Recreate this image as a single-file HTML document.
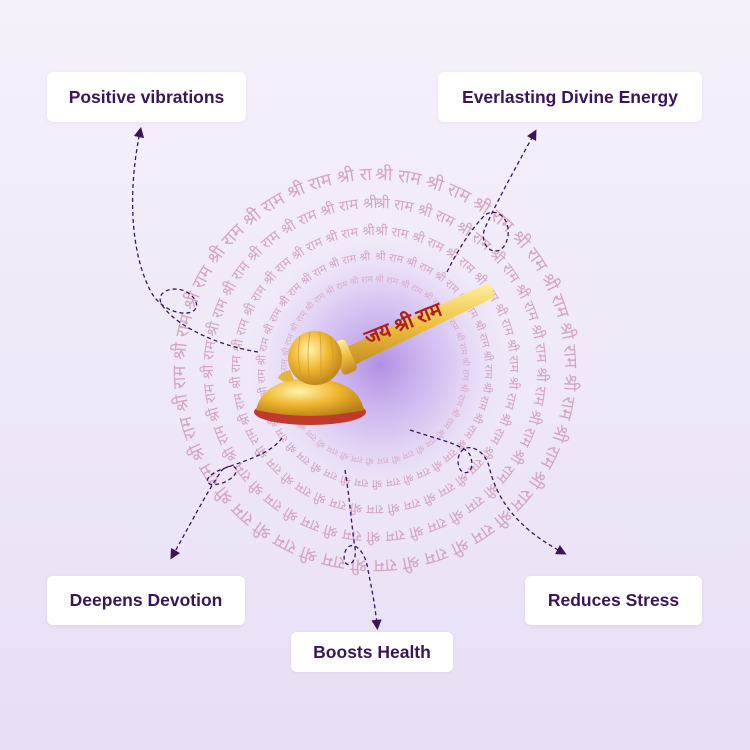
<!DOCTYPE html>
<html><head><meta charset="utf-8"><style>
html,body{margin:0;padding:0}
body{width:750px;height:750px;overflow:hidden;background:linear-gradient(180deg,#f5f1fa 0%,#efe8f8 50%,#e8def5 100%);position:relative;font-family:"Liberation Sans","Noto Sans CJK SC",sans-serif}
.lb{position:absolute;background:#fff;border-radius:6px;color:#3a1658;font-weight:bold;font-size:17.5px;display:flex;align-items:center;justify-content:center;box-shadow:0 1px 3px rgba(90,50,130,.08)}
svg{position:absolute;left:0;top:0}
</style></head><body>
<svg width="750" height="750" viewBox="0 0 750 750">
<defs>
<radialGradient id="glow" cx="0.5" cy="0.5" r="0.5">
<stop offset="0" stop-color="#a57fe0" stop-opacity="0.85"/>
<stop offset="0.5" stop-color="#c4a9ee" stop-opacity="0.5"/>
<stop offset="1" stop-color="#efe8f8" stop-opacity="0"/>
</radialGradient>
<radialGradient id="gold" cx="0.4" cy="0.35" r="0.7">
<stop offset="0" stop-color="#fff3b0"/><stop offset="0.5" stop-color="#f0b830"/><stop offset="1" stop-color="#b8801a"/>
</radialGradient>
<linearGradient id="hg" x1="0" y1="0" x2="0" y2="1">
<stop offset="0" stop-color="#fff0a0"/><stop offset="0.5" stop-color="#eebf40"/><stop offset="1" stop-color="#c08a20"/>
</linearGradient>
<path id="r1" d="M375,180 a190,190 0 1,1 -0.1,0"/>
<path id="r2" d="M375,208 a162,162 0 1,1 -0.1,0"/>
<path id="r3" d="M375,235 a135,135 0 1,1 -0.1,0"/>
<path id="r4" d="M375,260 a110,110 0 1,1 -0.1,0"/>
<path id="r5" d="M375,282 a88,88 0 1,1 -0.1,0"/>
<marker id="ar" markerWidth="8" markerHeight="8" refX="4" refY="4" orient="auto"><path d="M0,0 L8,4 L0,8 z" fill="#3a1658"/></marker>
</defs>
<circle cx="380" cy="365" r="140" fill="url(#glow)"/>
<g fill="#d3a6c2" font-family="'Liberation Sans','Noto Sans CJK SC',sans-serif">
<text font-size="18"><textPath href="#r1">श्री राम श्री राम श्री राम श्री राम श्री राम श्री राम श्री राम श्री राम श्री राम श्री राम श्री राम श्री राम श्री राम श्री राम श्री राम श्री राम श्री राम श्री राम श्री राम श्री राम श्री राम श्री राम श्री राम श्री राम श्री राम श्री राम श्री राम श्री राम श्री राम श्री राम श्री राम श्री राम श्री राम श्री राम श्री राम श्री राम</textPath></text>
<text font-size="15"><textPath href="#r2">श्री राम श्री राम श्री राम श्री राम श्री राम श्री राम श्री राम श्री राम श्री राम श्री राम श्री राम श्री राम श्री राम श्री राम श्री राम श्री राम श्री राम श्री राम श्री राम श्री राम श्री राम श्री राम श्री राम श्री राम श्री राम श्री राम श्री राम श्री राम श्री राम श्री राम श्री राम श्री राम श्री राम श्री राम श्री राम श्री राम</textPath></text>
<text font-size="13"><textPath href="#r3">श्री राम श्री राम श्री राम श्री राम श्री राम श्री राम श्री राम श्री राम श्री राम श्री राम श्री राम श्री राम श्री राम श्री राम श्री राम श्री राम श्री राम श्री राम श्री राम श्री राम श्री राम श्री राम श्री राम श्री राम श्री राम श्री राम श्री राम श्री राम श्री राम श्री राम श्री राम श्री राम श्री राम श्री राम श्री राम श्री राम</textPath></text>
<text font-size="11"><textPath href="#r4">श्री राम श्री राम श्री राम श्री राम श्री राम श्री राम श्री राम श्री राम श्री राम श्री राम श्री राम श्री राम श्री राम श्री राम श्री राम श्री राम श्री राम श्री राम श्री राम श्री राम श्री राम श्री राम श्री राम श्री राम श्री राम श्री राम श्री राम श्री राम श्री राम श्री राम श्री राम श्री राम श्री राम श्री राम श्री राम श्री राम</textPath></text>
<text font-size="9" opacity="0.8"><textPath href="#r5">श्री राम श्री राम श्री राम श्री राम श्री राम श्री राम श्री राम श्री राम श्री राम श्री राम श्री राम श्री राम श्री राम श्री राम श्री राम श्री राम श्री राम श्री राम श्री राम श्री राम श्री राम श्री राम श्री राम श्री राम श्री राम श्री राम श्री राम श्री राम श्री राम श्री राम श्री राम श्री राम</textPath></text>
</g>
<!-- mace -->
<ellipse cx="310" cy="412" rx="56" ry="13" fill="#c0392b"/>
<path d="M256,410 Q262,380 310,378 Q358,380 364,410 Q310,422 256,410z" fill="url(#gold)"/>
<path d="M340,350 L488,283 Q496,290 493,298 L348,368 z" fill="url(#hg)"/>
<text x="0" y="0" font-size="20" font-weight="bold" fill="#b0201a" font-family="'Liberation Serif','Noto Serif CJK SC',serif" transform="translate(368,345) rotate(-22)">जय श्री राम</text>
<rect x="336" y="340" width="16" height="34" rx="4" fill="url(#hg)" transform="rotate(-24 344 357)"/>
<circle cx="315" cy="358" r="27" fill="url(#gold)"/>
<g stroke="#c99a30" stroke-width="1" fill="none" opacity="0.7">
<path d="M300,336 Q296,358 302,380"/><path d="M310,332 Q306,358 310,385"/><path d="M320,332 Q322,358 320,385"/><path d="M330,337 Q336,358 330,380"/>
</g>
<path d="M290,370 Q280,372 278,378 Q285,384 294,380z" fill="#e7b43a"/>
<!-- connectors -->
<g fill="none" stroke="#3a1658" stroke-width="1.3" stroke-dasharray="4,3">
<path d="M258,352 C215,345 175,325 162,305 C152,288 185,282 195,300 C205,318 165,320 150,290 C130,250 128,190 140,132" marker-end="url(#ar)"/>
<path d="M447,272 C460,245 475,225 485,215 C500,205 515,225 505,245 C495,260 478,245 485,228 C500,195 520,160 534,134" marker-end="url(#ar)"/>
<path d="M282,438 C270,455 240,462 220,470 C200,478 205,490 225,482 C245,472 235,460 222,470 C205,495 190,525 173,555" marker-end="url(#ar)"/>
<path d="M410,430 C440,440 465,445 470,455 C478,475 458,480 458,460 C460,440 485,445 490,470 C500,510 530,535 562,552" marker-end="url(#ar)"/>
<path d="M345,470 C350,500 352,530 355,548 C358,568 340,570 345,552 C350,538 365,548 368,570 C372,590 375,605 377,625" marker-end="url(#ar)"/>
</g>
</svg>
<div class="lb" style="left:47px;top:72px;width:199px;height:50px">Positive vibrations</div>
<div class="lb" style="left:438px;top:72px;width:264px;height:50px">Everlasting Divine Energy</div>
<div class="lb" style="left:47px;top:576px;width:198px;height:49px">Deepens Devotion</div>
<div class="lb" style="left:525px;top:576px;width:177px;height:49px">Reduces Stress</div>
<div class="lb" style="left:291px;top:632px;width:162px;height:40px">Boosts Health</div>
</body></html>
